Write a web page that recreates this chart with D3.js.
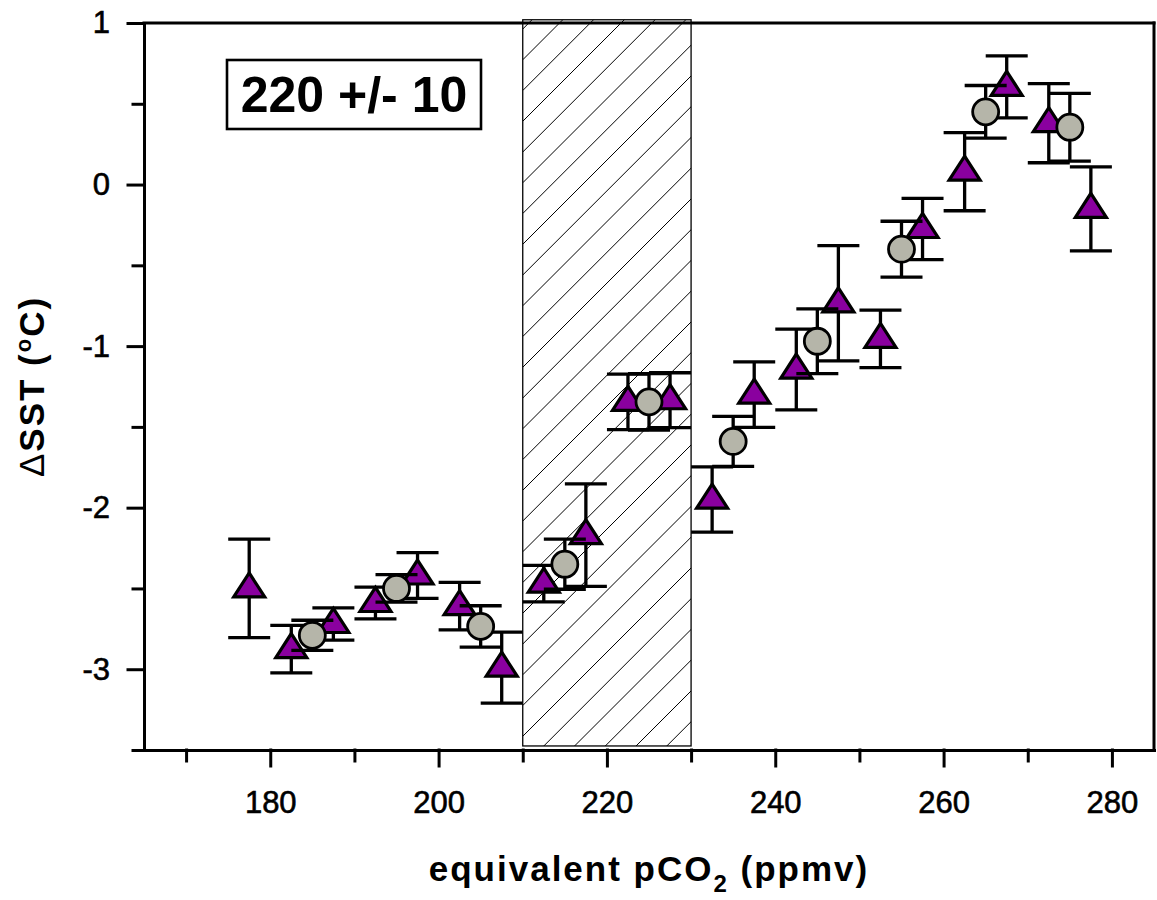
<!DOCTYPE html>
<html>
<head>
<meta charset="utf-8">
<script src="https://cdn.jsdelivr.net/npm/d3@7"></script>
<style>
  html, body { margin: 0; padding: 0; background: #fff; }
  svg { display: block; font-family: "Liberation Sans", Arial, Helvetica, sans-serif; }
</style>
</head>
<body>
<svg id="chart" width="1157" height="900"></svg>
<script>
// Series 1 (triangles): SST anomaly per 5-ppmv pCO2 bin, with ±error
const triangleX   = [177.5, 182.5, 187.5, 192.5, 197.5, 202.5, 207.5, 212.5, 217.5, 222.5, 227.5,
                     232.5, 237.5, 242.5, 247.5, 252.5, 257.5, 262.5, 267.5, 272.5, 277.5];
const triangleY   = [-2.50, -2.875, -2.72, -2.59, -2.42, -2.61, -2.99, -2.47, -2.17, -1.345, -1.335,
                     -1.95, -1.30, -1.145, -0.735, -0.955, -0.275, 0.08, 0.605, 0.38, -0.15];
const triangleErr = [0.305, 0.147, 0.10, 0.098, 0.142, 0.147, 0.22, 0.113, 0.317, 0.172, 0.17,
                     0.202, 0.203, 0.25, 0.357, 0.178, 0.19, 0.242, 0.192, 0.245, 0.26];

// Series 2 (circles): SST anomaly per 10-ppmv pCO2 bin, with ±error
const circleX   = [185, 195, 205, 215, 225, 235, 245, 255, 265, 275];
const circleY   = [-2.79, -2.50, -2.735, -2.35, -1.345, -1.59, -0.97, -0.40, 0.45, 0.355];
const circleErr = [0.093, 0.085, 0.128, 0.155, 0.175, 0.155, 0.20, 0.173, 0.163, 0.21];

// Threshold band (ppmv) and its vertical extent (°C)
const bandX = [210, 230];
const bandY = [-3.475, 1.02];

// Axes
const xDomain = [165, 285];
const yDomain = [-3.5, 1];
const xMajorTicks = [180, 200, 220, 240, 260, 280];
const xMinorTicks = [170, 190, 210, 230, 250, 270];
const yMajorTicks = [-3, -2, -1, 0, 1];
const yMinorTicks = [-3.5, -2.5, -1.5, -0.5, 0.5];

const svg = d3.select("#chart");
const x = d3.scaleLinear().domain(xDomain).range([144, 1154]);
const y = d3.scaleLinear().domain(yDomain).range([750, 23]);

const AXIS_W = 3;
const purple = "#8a009f";
const grey = "#b5b5a9";
const plain = d => String(d);   // hyphen-minus labels

// --- hatched band ---
const bx0 = x(bandX[0]), bx1 = x(bandX[1]);
const by0 = y(bandY[1]), by1 = y(bandY[0]);
svg.append("clipPath").attr("id", "bandClip")
  .append("rect").attr("x", bx0).attr("y", by0).attr("width", bx1 - bx0).attr("height", by1 - by0);
const hatchStep = 30.75;
const hatchStart = by0 + 9.25 - hatchStep;
const hatchCount = Math.ceil((by1 - by0 + (bx1 - bx0)) / hatchStep) + 2;
svg.append("g").attr("clip-path", "url(#bandClip)")
  .selectAll("line").data(d3.range(hatchCount)).join("line")
  .attr("x1", bx0).attr("y1", k => hatchStart + k * hatchStep)
  .attr("x2", bx0 + 1000).attr("y2", k => hatchStart + k * hatchStep - 1000)
  .attr("stroke", "#000").attr("stroke-width", 1);
svg.append("rect").attr("x", bx0).attr("y", by0).attr("width", bx1 - bx0).attr("height", by1 - by0)
  .attr("fill", "none").attr("stroke", "#000").attr("stroke-width", 1.3);

// --- axes ---
const tickFont = 31;
const yAxis = svg.append("g").attr("transform", `translate(${x.range()[0]},0)`)
  .call(d3.axisLeft(y).tickValues(yMajorTicks).tickSize(16).tickSizeOuter(0).tickPadding(18)
        .tickFormat(plain));
yAxis.append("g").call(d3.axisLeft(y).tickValues(yMinorTicks).tickSize(11).tickSizeOuter(0).tickFormat(""))
  .select(".domain").remove();

const xAxis = svg.append("g").attr("transform", `translate(0,${y.range()[0]})`)
  .call(d3.axisBottom(x).tickValues(xMajorTicks).tickSize(16).tickSizeOuter(0).tickPadding(25)
        .tickFormat(plain));
xAxis.append("g").call(d3.axisBottom(x).tickValues(xMinorTicks).tickSize(11).tickSizeOuter(0).tickFormat(""))
  .select(".domain").remove();

svg.selectAll(".domain, .tick line").attr("stroke", "#000").attr("stroke-width", AXIS_W)
  .attr("stroke-linecap", "square");
svg.selectAll(".tick text").attr("font-size", tickFont).attr("fill", "#000")
  .attr("stroke", "#000").attr("stroke-width", 0.6)
  .attr("font-family", "'Liberation Sans', Arial, sans-serif");

// top and right frame
svg.append("line").attr("x1", x.range()[0]).attr("x2", x.range()[1])
  .attr("y1", y.range()[1]).attr("y2", y.range()[1]).attr("stroke", "#000").attr("stroke-width", AXIS_W)
  .attr("stroke-linecap", "square");
svg.append("line").attr("x1", x.range()[1]).attr("x2", x.range()[1])
  .attr("y1", y.range()[1]).attr("y2", y.range()[0]).attr("stroke", "#000").attr("stroke-width", AXIS_W)
  .attr("stroke-linecap", "square");

// --- error bars + markers ---
const CAP = 21;
function errorBars(g, xs, ys, es) {
  const d = xs.map((v, i) => ({x: v, y: ys[i], e: es[i]}));
  const eb = g.append("g").attr("stroke", "#000").attr("stroke-width", 3.3).attr("fill", "none");
  eb.selectAll("path").data(d).join("path")
    .attr("d", p => {
      const cx = x(p.x), t = y(p.y + p.e), b = y(p.y - p.e);
      return `M${cx},${t}V${b}M${cx - CAP},${t}H${cx + CAP}M${cx - CAP},${b}H${cx + CAP}`;
    });
  return d;
}

const triG = svg.append("g");
const triData = errorBars(triG, triangleX, triangleY, triangleErr);
triG.selectAll("path.sym").data(triData).join("path").attr("class", "sym")
  .attr("transform", p => `translate(${x(p.x)},${y(p.y)})`)
  .attr("d", "M0,-15.5L15.5,8.5L-15.5,8.5Z")
  .attr("fill", purple).attr("stroke", "#000").attr("stroke-width", 3.2).attr("stroke-linejoin", "miter");

const cirG = svg.append("g");
const cirData = errorBars(cirG, circleX, circleY, circleErr);
cirG.selectAll("circle").data(cirData).join("circle")
  .attr("cx", p => x(p.x)).attr("cy", p => y(p.y)).attr("r", 13)
  .attr("fill", grey).attr("stroke", "#000").attr("stroke-width", 2.8);

// --- annotation box ---
const bandMid = (bandX[0] + bandX[1]) / 2, bandHalf = (bandX[1] - bandX[0]) / 2;
const boxX = x.range()[0] + 83, boxY = y.range()[1] + 37;
svg.append("rect").attr("x", boxX).attr("y", boxY).attr("width", 254).attr("height", 69)
  .attr("fill", "#fff").attr("stroke", "#000").attr("stroke-width", 2.6);
svg.append("text").attr("x", boxX + 127).attr("y", boxY + 52).attr("text-anchor", "middle")
  .attr("font-size", 50).attr("font-weight", "bold").attr("fill", "#000")
  .text(`${bandMid} +/- ${bandHalf}`);

// --- axis titles ---
const xt = svg.append("text").attr("x", (x.range()[0] + x.range()[1]) / 2).attr("y", 881)
  .attr("text-anchor", "middle").attr("font-size", 35).attr("font-weight", "bold")
  .attr("letter-spacing", 2).attr("fill", "#000");
xt.append("tspan").text("equivalent pCO");
xt.append("tspan").attr("font-size", 24).attr("dy", 11).text("2");
xt.append("tspan").attr("dy", -11).text(" (ppmv)");

const yt = svg.append("text")
  .attr("transform", `translate(44,${(y.range()[0] + y.range()[1]) / 2}) rotate(-90)`)
  .attr("text-anchor", "middle").attr("font-size", 35).attr("font-weight", "bold")
  .attr("letter-spacing", 2).attr("fill", "#000");
yt.append("tspan").attr("font-weight", "normal").text("Δ");
yt.append("tspan").text("SST (");
yt.append("tspan").attr("font-size", 22).attr("dy", -13).text("o");
yt.append("tspan").attr("dy", 13).text("C)");
</script>
</body>
</html>
